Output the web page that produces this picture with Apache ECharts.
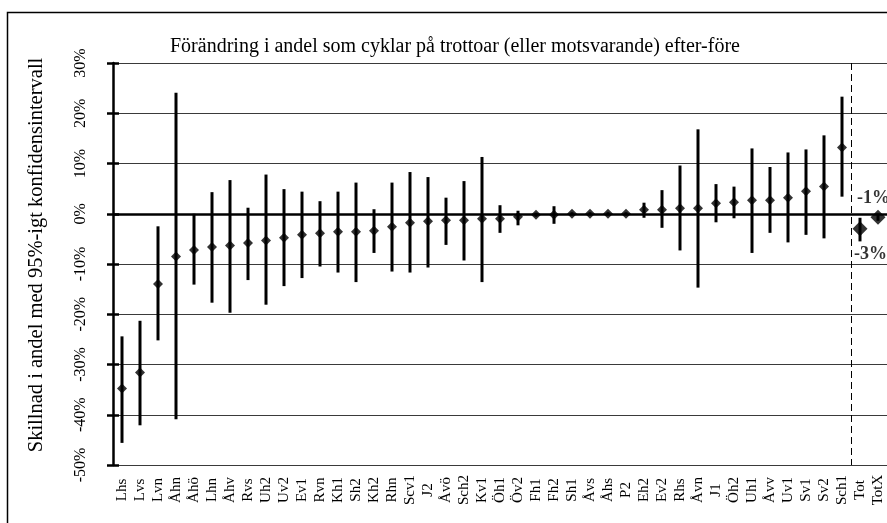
<!DOCTYPE html>
<html>
<head>
<meta charset="utf-8">
<script src="https://cdn.jsdelivr.net/npm/echarts@6/dist/echarts.min.js"></script>
<style>
  html, body { margin: 0; padding: 0; background: #fff; }
  #chart { width: 887px; height: 523px; }
</style>
</head>
<body>
<div id="chart"></div>
<script>
// Measuring points, sorted by estimated change; the two totals come last
const categories = ['Lhs','Lvs','Lvn','Åhn','Åhö','Lhn','Åhv','Rvs','Uh2','Uv2','Ev1','Rvn','Kh1','Sh2','Kh2','Rhn','Scv1','J2','Åvö','Sch2','Kv1','Öh1','Öv2','Fh1','Fh2','Sh1','Åvs','Åhs','P2','Eh2','Ev2','Rhs','Åvn','J1','Öh2','Uh1','Åvv','Uv1','Sv1','Sv2','Sch1','Tot','TotX'];

// Change in share (percentage points), after minus before
const change = [-34.8,-31.6,-14.0,-8.5,-7.2,-6.6,-6.3,-5.8,-5.3,-4.8,-4.2,-3.9,-3.6,-3.6,-3.4,-2.6,-1.8,-1.5,-1.3,-1.3,-1.0,-1.0,-0.6,-0.2,-0.2,0.0,0.0,0.0,0.0,0.8,0.8,1.1,1.1,2.1,2.3,2.7,2.7,3.2,4.5,5.4,13.2,-3.0,-0.7];

// 95% confidence interval, lower and upper limits
const lower = [-45.6,-42.1,-25.2,-40.9,-14.1,-17.7,-19.7,-13.2,-18.1,-14.4,-12.8,-10.5,-11.7,-13.6,-7.8,-11.5,-11.7,-10.7,-6.2,-9.3,-13.6,-3.8,-2.3,-0.6,-2.0,-0.3,-0.3,-0.3,-0.3,-0.8,-2.8,-7.3,-14.7,-1.7,-0.9,-7.8,-3.8,-5.7,-4.2,-4.9,3.4,-5.5,-1.4];
const upper = [-24.4,-21.3,-2.5,24.1,0.0,4.3,6.7,1.2,7.8,4.9,4.4,2.5,4.4,6.2,0.9,6.2,8.3,7.3,3.2,6.5,11.3,1.7,0.6,0.2,1.5,0.3,0.3,0.3,0.3,2.2,4.7,9.6,16.8,5.9,5.4,13.0,9.3,12.2,12.8,15.6,23.3,-0.8,0.0];

// Totals and where their value labels sit
const totalNames = ['Tot', 'TotX'];
const totalLabelSide = ['bottom', 'top'];

const yTicks = { min: -50, max: 30, step: 10 };

const SERIF = '"Liberation Serif", "Times New Roman", serif';
const firstTotal = categories.indexOf(totalNames[0]);

const siteData = categories.map((c, i) => i < firstTotal ? [i, change[i]] : [i, '-']);
const totalData = totalNames.map((name, k) => {
  const i = categories.indexOf(name);
  const below = totalLabelSide[k] === 'bottom';
  return {
    value: [i, change[i]],
    label: {
      show: true,
      position: totalLabelSide[k],
      align: 'left',
      offset: below ? [-6, 4] : [-21, 3],
    }
  };
});
const intervalData = categories.map((c, i) => [i, lower[i], upper[i]]);
// Separator between the single sites and the totals, on the band edge
const separatorData = [[firstTotal - 0.5]];

const chart = echarts.init(document.getElementById('chart'), null, { renderer: 'canvas' });

const yBase = {
  type: 'value',
  min: yTicks.min,
  max: yTicks.max,
  interval: yTicks.step,
  position: 'left'
};

chart.setOption({
  animation: false,
  backgroundColor: '#fff',
  textStyle: { fontFamily: SERIF, color: '#000' },
  title: {
    text: 'Förändring i andel som cyklar på trottoar (eller motsvarande) efter-före',
    left: 165,
    top: 32,
    textStyle: { fontFamily: SERIF, fontSize: 20, fontWeight: 'normal', color: '#000' }
  },
  graphic: [{
    type: 'rect',
    shape: { x: 7.5, y: 12.5, width: 900, height: 600 },
    style: { fill: 'none', stroke: '#000', lineWidth: 1.5 },
    silent: true
  }],
  grid: { left: 113, right: 0, top: 63, bottom: 58 },
  xAxis: [
    {
      type: 'category',
      data: categories,
      boundaryGap: true,
      axisLine: { show: false },
      axisTick: { show: false },
      axisLabel: {
        rotate: 90,
        interval: 0,
        margin: 25,
        align: 'center',
        verticalAlign: 'middle',
        fontFamily: SERIF,
        fontSize: 15,
        color: '#000'
      },
      splitLine: { show: false }
    },
    {
      // same bands expressed as a continuous index, used for the separator
      type: 'value',
      min: -0.5,
      max: categories.length - 0.5,
      show: false
    }
  ],
  yAxis: [
    Object.assign({}, yBase, {
      name: 'Skillnad i andel med 95%-igt konfidensintervall',
      nameLocation: 'middle',
      nameGap: 66,
      nameTextStyle: { fontFamily: SERIF, fontSize: 20.5, color: '#000', padding: [0, 0, 0, 18] },
      axisLine: { show: true, onZero: false, lineStyle: { color: '#000', width: 2.5 } },
      axisTick: { show: true, length: 6, lineStyle: { color: '#000', width: 2.5 } },
      axisLabel: {
        rotate: 90,
        margin: 24,
        formatter: '{value}%',
        fontFamily: SERIF,
        fontSize: 16,
        color: '#000'
      },
      splitLine: { show: true, lineStyle: { color: '#3a3a3a', width: 1 } }
    }),
    Object.assign({}, yBase, {
      axisLine: { show: false, onZero: false },
      axisTick: { show: true, inside: true, length: 6, lineStyle: { color: '#000', width: 2.5 } },
      axisLabel: { show: false },
      splitLine: { show: false }
    })
  ],
  series: [
    {
      name: 'Avdelare',
      type: 'custom',
      xAxisIndex: 1,
      yAxisIndex: 0,
      z: 2,
      silent: true,
      renderItem: function (params, api) {
        const x = api.value(0);
        const top = api.coord([x, yTicks.max]);
        const bottom = api.coord([x, yTicks.min]);
        // snap to the pixel grid so the 1px dash stays crisp
        const px = Math.round(top[0]) + 0.5;
        return {
          type: 'line',
          shape: { x1: px, y1: top[1], x2: px, y2: bottom[1] },
          style: { stroke: '#000', lineWidth: 1, lineDash: [7, 4] }
        };
      },
      encode: { x: 0 },
      data: separatorData
    },
    {
      name: 'Konfidensintervall',
      type: 'custom',
      z: 3,
      renderItem: function (params, api) {
        const x = api.value(0);
        const lo = api.coord([x, api.value(1)]);
        const hi = api.coord([x, api.value(2)]);
        return {
          type: 'line',
          shape: { x1: lo[0], y1: lo[1], x2: hi[0], y2: hi[1] },
          style: { stroke: '#000', lineWidth: 3 }
        };
      },
      encode: { x: 0, y: [1, 2] },
      data: intervalData,
      markLine: {
        silent: true,
        symbol: 'none',
        label: { show: false },
        lineStyle: { color: '#000', width: 2.5, type: 'solid' },
        data: [{ yAxis: 0 }]
      }
    },
    {
      name: 'Förändring',
      type: 'scatter',
      z: 4,
      symbol: 'diamond',
      symbolSize: [10, 10],
      itemStyle: { color: '#000' },
      data: siteData
    },
    {
      name: 'Totalt',
      type: 'scatter',
      z: 4,
      symbol: 'diamond',
      symbolSize: [15, 15],
      itemStyle: { color: '#000' },
      label: {
        formatter: (p) => Math.round(p.value[1]) + '%',
        fontFamily: SERIF,
        fontSize: 18,
        fontWeight: 'bold',
        color: '#000'
      },
      data: totalData
    }
  ]
});
</script>
</body>
</html>
